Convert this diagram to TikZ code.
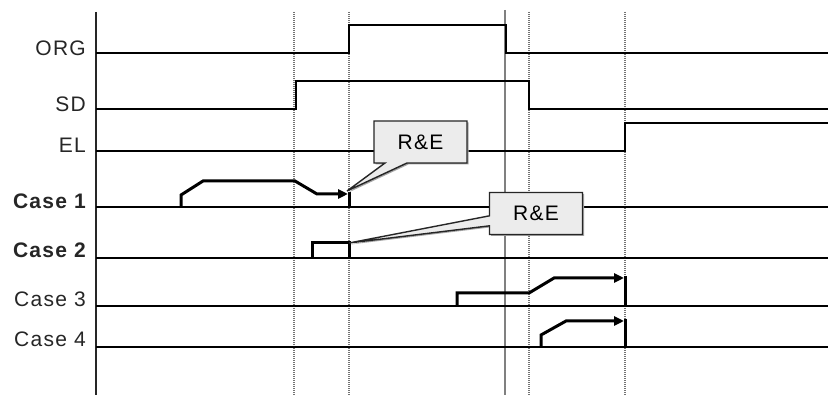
\documentclass[tikz,border=0pt]{standalone}
\usepackage{fontspec}
\setmainfont{Liberation Sans}[LetterSpace=6]
\usetikzlibrary{arrows.meta,shapes.callouts,shadows}
\begin{document}
\begin{tikzpicture}[x=1pt,y=-1pt,
  sig/.style={line width=1.6pt, black},
  trace/.style={line width=3pt, black, line join=miter},
  tracearrow/.style={trace, -{Triangle[length=10pt,width=9pt]}},
  guide/.style={black!55, line width=1.1pt, dash pattern=on 1pt off 1pt},
  guidesolid/.style={black!50, line width=1.1pt},
  lbl/.style={anchor=base east, font=\fontsize{21}{24}\selectfont, inner sep=0pt, text=black!85},
  blbl/.style={lbl, font=\fontsize{21}{24}\selectfont\bfseries},
  note/.style={rectangle callout, draw=black!85, line width=1.4pt, fill=gray!15,
    minimum width=93pt, minimum height=42pt, inner sep=0pt,
    font=\fontsize{21}{24}\selectfont,
    drop shadow={shadow xshift=1.5pt, shadow yshift=-1.5pt, fill=gray!70, opacity=1}},
]
\useasboundingbox (0,0) rectangle (828,395);
\fill[white] (0,0) rectangle (828,395);

% guide lines
\coordinate (g1t) at (294,12); \coordinate (g1b) at (294,395);
\coordinate (g2t) at (349,12); \coordinate (g2b) at (349,395);
\coordinate (g3t) at (505,10); \coordinate (g3b) at (505,395);
\coordinate (g4t) at (529,12); \coordinate (g4b) at (529,395);
\coordinate (g5t) at (625,12); \coordinate (g5b) at (625,395);
\draw[guide] (g1t) -- (g1b);
\draw[guide] (g2t) -- (g2b);
\draw[guidesolid] (g3t) -- (g3b);
\draw[guide] (g4t) -- (g4b);
\draw[guide] (g5t) -- (g5b);

% axis
\coordinate (axt) at (96,12); \coordinate (axb) at (96,395);
\draw[line width=1.6pt, black!85] (axt) -- (axb);

% labels
\node[lbl]  (lorg) at (86,56)  {ORG};
\node[lbl]  (lsd)  at (86,112) {SD};
\node[lbl]  (lel)  at (86,153) {EL};
\node[blbl] (lc1)  at (86,209) {Case 1};
\node[blbl] (lc2)  at (86,258) {Case 2};
\node[lbl]  (lc3)  at (86,307) {Case 3};
\node[lbl]  (lc4)  at (86,347) {Case 4};

% signals
\draw[sig] (96,53) -- (349,53) -- (349,25) -- (506,25) -- (506,53) -- (828,53);
\draw[sig] (96,109) -- (296,109) -- (296,81) -- (529,81) -- (529,109) -- (828,109);
\draw[sig] (96,151) -- (625,151) -- (625,123) -- (828,123);
\draw[sig] (96,207) -- (828,207);
\draw[sig] (96,258) -- (828,258);
\draw[sig] (96,306) -- (828,306);
\draw[sig] (96,347) -- (828,347);

% case traces
\draw[tracearrow] (181,207) -- (181,195) -- (203,181) -- (295,181) -- (317,194) -- (348,194);
\draw[trace] (349,192) -- (349,207);
\draw[trace] (312,258) -- (312,243) -- (349,243) -- (349,258);
\draw[tracearrow] (457,306) -- (457,293) -- (529,293) -- (554,278) -- (624,278);
\draw[trace] (625,276) -- (625,306);
\draw[tracearrow] (541,347) -- (541,335) -- (566,321) -- (624,321);
\draw[trace] (625,319) -- (625,347);

% callouts
\coordinate (tip1) at (347,191);
\coordinate (tip2) at (349,243);
\node[note, callout absolute pointer={(tip1)}, callout pointer width=22pt] (re1) at (420.5,142) {R\&E};
\node[note, callout absolute pointer={(tip2)}, callout pointer width=10pt] (re2) at (536,213.5) {R\&E};
\end{tikzpicture}
\end{document}
